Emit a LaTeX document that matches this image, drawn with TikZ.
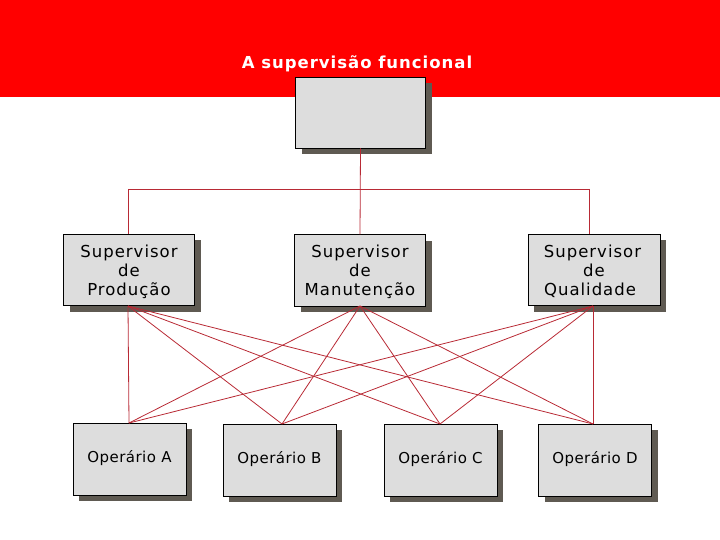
\documentclass[tikz,border=0pt]{standalone}
\usepackage{fontspec}
\setmainfont{DejaVu Sans}
\usetikzlibrary{shadows}
\definecolor{bandColor}{HTML}{FF0000}
\definecolor{boxColor}{HTML}{DDDDDD}
\definecolor{shadowColor}{HTML}{5F5A52}
\definecolor{lineColor}{HTML}{B82A35}
\newfontfamily\boxfont[LetterSpace=6]{DejaVu Sans}
\newfontfamily\workerfont[LetterSpace=3]{DejaVu Sans}
\tikzset{
  orgbox/.style = {rectangle, draw=black, fill=boxColor, align=center, inner sep=0pt, line width=0.9pt,
    drop shadow={shadow xshift=6pt, shadow yshift=-6pt, fill=shadowColor, opacity=1}},
  superBox/.style = {orgbox, minimum width=131pt, minimum height=71.5pt, text depth=0pt, font=\boxfont\fontsize{16.5}{19}\selectfont},% supervisores
  workerBox/.style = {orgbox, minimum width=113pt, minimum height=72pt, text depth=6pt, font=\workerfont\fontsize{15}{18}\selectfont},% operarios
  link/.style = {draw=lineColor, line width=0.8pt},
}
\begin{document}
\begin{tikzpicture}[x=1pt,y=-1pt]
\useasboundingbox (0,0) rectangle (720,540);
\fill [bandColor] (0,0) rectangle (720,97);
\node (titulo) at (357,63.5) [white, font=\boxfont\fontsize{16.5}{19}\selectfont\bfseries] {A supervisão funcional};
\node [orgbox, minimum width=130pt, minimum height=71pt] (chefe) at (360.5,112.5) {};
\node [superBox] (supProducao) at (129,270) {Supervisor\\de\\Produção};
\node [superBox] (supManutencao) at (360,270.5) {Supervisor\\de\\Manutenção};
\node [superBox, minimum width=132pt] (supQualidade) at (594,270) {Supervisor\kern3pt\\de\\Qualidade\kern8pt};
\node [workerBox] (opA) at (129.5,459) {Operário A};
\node [workerBox] (opB) at (279.5,460) {Operário B};
\node [workerBox] (opC) at (440.5,460) {Operário C};
\node [workerBox] (opD) at (595,460) {Operário D};
\coordinate (barraEsq) at (128,189);
\coordinate (barraDir) at (589,189);
\coordinate (saidaProducao) at (128,306);
\coordinate (saidaManutencao) at (360,306);
\coordinate (saidaQualidade) at (593,306);
\coordinate (entradaA) at (129,423);
\coordinate (entradaB) at (282,424);
\coordinate (entradaC) at (440,424);
\coordinate (entradaD) at (593,424);
% ligacoes do chefe
\draw [link] (chefe.south) -- (supManutencao.north);
\draw [link] (barraEsq) -- (barraDir);
\draw [link] (barraEsq) -- (barraEsq |- supProducao.north);
\draw [link] (barraDir) -- (barraDir |- supQualidade.north);
% ligacoes supervisores - operarios
\foreach \sup in {saidaProducao,saidaManutencao,saidaQualidade}
  \foreach \op in {entradaA,entradaB,entradaC,entradaD}
    \draw [link] (\sup) -- (\op);
\end{tikzpicture}
\end{document}
